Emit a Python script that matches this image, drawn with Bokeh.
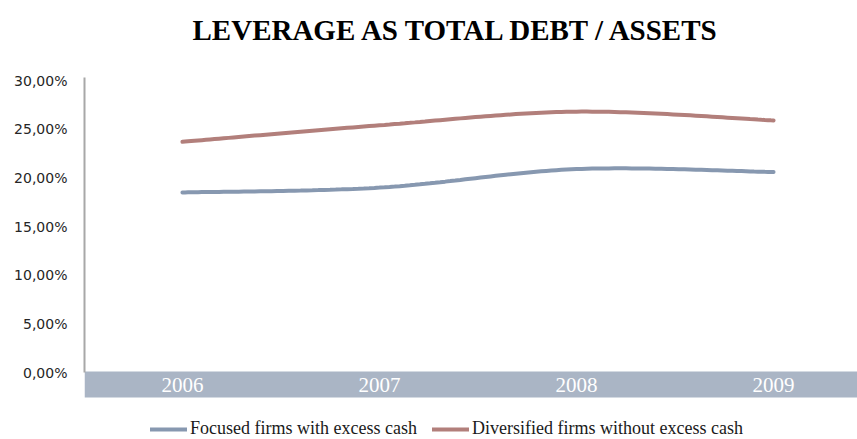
import numpy as np
from bokeh.plotting import figure
from bokeh.models import (FixedTicker, Range1d, Legend, LegendItem,
                          LinearAxis, BoxAnnotation)
from bokeh.core.properties import value
from bokeh.embed import file_html
from bokeh.resources import INLINE

# ---- data ----
years = ["2006", "2007", "2008", "2009"]
focused = [18.5, 19.0, 20.9, 20.6]
diversified = [23.7, 25.4, 26.8, 25.9]
series_names = ["Focused firms with excess cash",
                "Diversified firms without excess cash"]
y_ticks = [0, 5, 10, 15, 20, 25, 30]
y_tick_labels = ["0,00%", "5,00%", "10,00%", "15,00%", "20,00%", "25,00%", "30,00%"]
title_text = "LEVERAGE AS TOTAL DEBT / ASSETS"

# ---- styling / layout constants ----
BLUE = "#8798b0"
RED = "#b27f7b"
BAND = "#aab5c5"

X_LEFT, X_RIGHT = -0.497, 3.426      # visible category span
Y_BOTTOM, Y_TOP = -6.88, 38.22       # room under zero (band, legend) and above (title)
AXIS_TOP = 30.31                     # top of the value axis line
BAND_TOP, BAND_BOTTOM, BAND_MID = 0.1, -2.57, -1.23
TITLE_X, TITLE_Y = 1.396, 35.2


def smooth(xs, ys, n=40):
    """Excel-like smoothed line (cubic Bezier, Catmull-Rom control points)."""
    pts = np.column_stack([xs, ys]).astype(float)
    P = np.vstack([pts[0], pts, pts[-1]])
    t = np.linspace(0, 1, n)[:, None]
    out = []
    for i in range(1, len(P) - 2):
        p0, p1, p2, p3 = P[i - 1], P[i], P[i + 1], P[i + 2]
        c1 = p1 + (p2 - p0) / 6.0
        c2 = p2 - (p3 - p1) / 6.0
        seg = ((1 - t) ** 3) * p1 + 3 * ((1 - t) ** 2) * t * c1 \
            + 3 * (1 - t) * t ** 2 * c2 + t ** 3 * p2
        out.append(seg if i == 1 else seg[1:])
    a = np.vstack(out)
    return a[:, 0], a[:, 1]


xi = list(range(len(years)))

p = figure(width=857, height=439, x_range=Range1d(X_LEFT, X_RIGHT),
           y_range=Range1d(Y_BOTTOM, Y_TOP), output_backend="svg",
           toolbar_location=None, x_axis_location=None, y_axis_location=None,
           min_border_left=84, min_border_right=0, min_border_top=0,
           min_border_bottom=0)
p.outline_line_color = None
p.xgrid.visible = False
p.ygrid.visible = False
p.background_fill_color = "white"
p.border_fill_color = "white"

# title
p.text(x=[TITLE_X], y=[TITLE_Y], text=[title_text], text_align="center",
       text_baseline="alphabetic", text_color="#000000",
       text_font=value("Liberation Serif"), text_font_style="bold",
       text_font_size="29px")

# category band
band = BoxAnnotation(top=BAND_TOP, bottom=BAND_BOTTOM, fill_color=BAND,
                     fill_alpha=1, line_color=None, level="underlay")
p.add_layout(band)
p.text(x=xi, y=[BAND_MID] * len(xi), text=years, text_align="center",
       text_baseline="middle", text_color="white",
       text_font=value("Liberation Serif"), text_font_size="21px")

fx, fy = smooth(xi, focused)
dx, dy = smooth(xi, diversified)
r1 = p.line(fx, fy, line_color=BLUE, line_width=4, line_cap="round")
r2 = p.line(dx, dy, line_color=RED, line_width=4, line_cap="round")

yaxis = LinearAxis(ticker=FixedTicker(ticks=y_ticks), bounds=(0, AXIS_TOP),
                   major_label_overrides={t: l for t, l in zip(y_ticks, y_tick_labels)})
yaxis.axis_line_color = "#a8a8a8"
yaxis.axis_line_width = 2
yaxis.major_tick_line_color = None
yaxis.minor_tick_line_color = None
yaxis.major_tick_out = 0
yaxis.major_tick_in = 0
yaxis.major_label_standoff = 17
yaxis.major_label_text_font = "DejaVu Sans"
yaxis.major_label_text_font_size = "14px"
yaxis.major_label_text_color = "#262626"
p.add_layout(yaxis, "left")

legend = Legend(items=[LegendItem(label=series_names[0], renderers=[r1]),
                       LegendItem(label=series_names[1], renderers=[r2])],
                orientation="horizontal", location=(66, 0),
                glyph_width=37, glyph_height=20, label_standoff=3, spacing=15,
                padding=0, margin=0, border_line_alpha=0,
                background_fill_alpha=0,
                label_text_font="Liberation Serif",
                label_text_font_size="18px", label_text_color="#1a1a1a")
p.add_layout(legend)

open("out.html", "w").write(file_html(p, INLINE))
